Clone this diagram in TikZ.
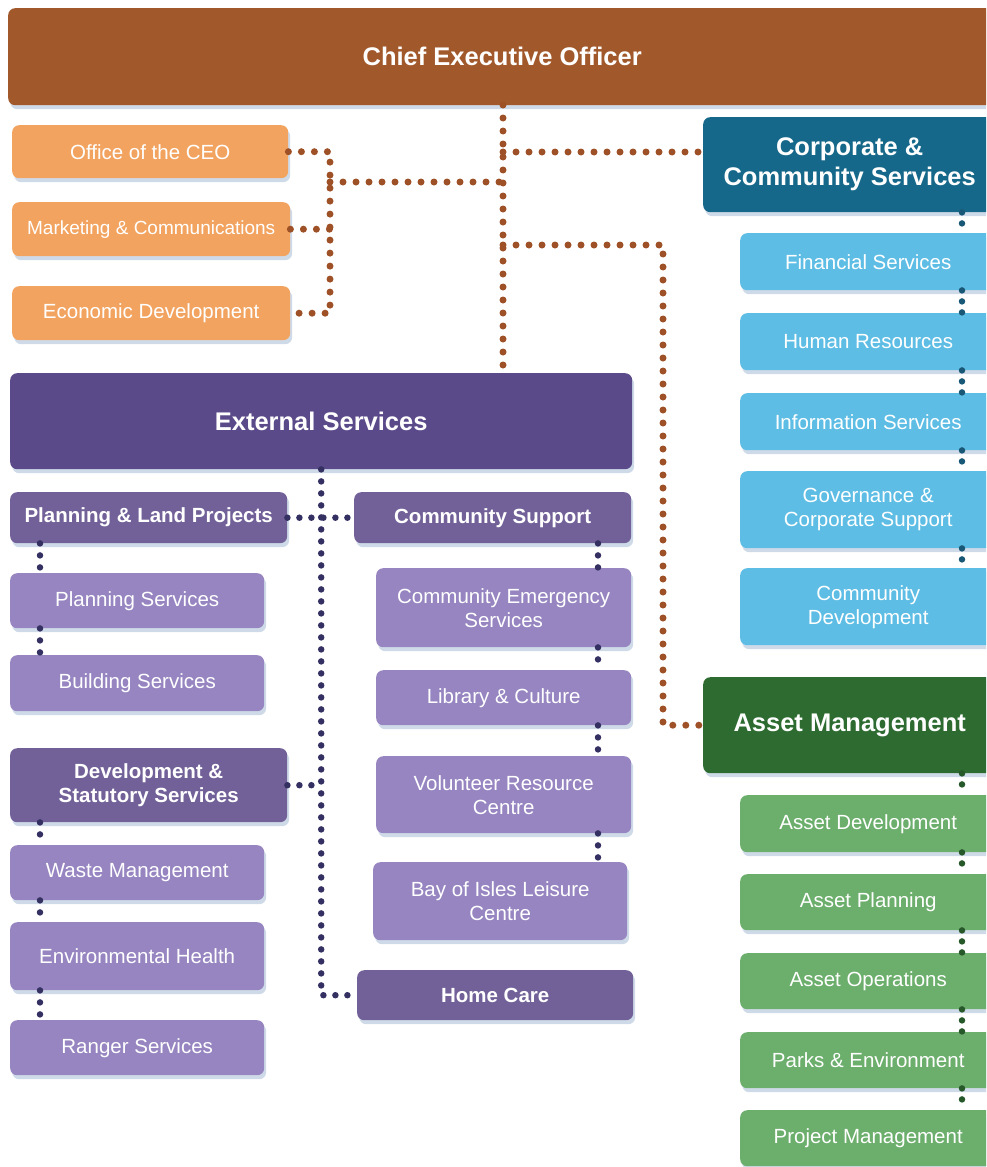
\documentclass[tikz,border=0pt]{standalone}
\usepackage{fontspec}
\setmainfont{Liberation Sans}
\usetikzlibrary{shadows}

\definecolor{ceobrown}{RGB}{161,88,42}
\definecolor{orangefill}{RGB}{242,163,95}
\definecolor{browndot}{RGB}{158,80,38}
\definecolor{corpblue}{RGB}{22,104,138}
\definecolor{lightblue}{RGB}{93,189,228}
\definecolor{bluedot}{RGB}{24,88,118}
\definecolor{assetgreen}{RGB}{45,107,48}
\definecolor{lightgreen}{RGB}{108,174,108}
\definecolor{greendot}{RGB}{38,88,42}
\definecolor{extpurple}{RGB}{91,74,138}
\definecolor{midpurple}{RGB}{113,97,152}
\definecolor{lightpurple}{RGB}{150,133,192}
\definecolor{navydot}{RGB}{52,48,98}
\definecolor{shadowblue}{RGB}{160,182,210}

\begin{document}
\begin{tikzpicture}[x=1pt, y=-1pt,
  box/.style={rounded corners=7pt, anchor=north west, align=center, text=white, inner sep=2pt,
    drop shadow={shadow xshift=2pt, shadow yshift=-4pt, fill=shadowblue, opacity=.5}},
  headbox/.style={box, font=\fontsize{25.5}{30}\selectfont\bfseries},
  midbox/.style={box, font=\fontsize{20.5}{24}\selectfont\bfseries},
  subbox/.style={box, font=\fontsize{20.5}{24}\selectfont},
  dots/.style={line width=7pt, line cap=round, dash pattern=on 0pt off 13pt},
  browndots/.style={dots, draw=browndot},
  bluedots/.style={dots, draw=bluedot, line width=6.5pt, dash pattern=on 0pt off 11pt},
  greendots/.style={dots, draw=greendot, line width=6.5pt, dash pattern=on 0pt off 11pt},
  navydots/.style={dots, draw=navydot, line width=6.5pt, dash pattern=on 0pt off 12pt}]
\path[use as bounding box, clip] (0,0) rectangle (986,1167);

% top level
\node[headbox, fill=ceobrown, minimum width=988, minimum height=97] (ceo) at (8,8) {Chief Executive Officer};
\node[subbox, fill=orangefill, minimum width=276, minimum height=53] (office) at (12,125) {Office of the CEO};
\node[subbox, fill=orangefill, minimum width=278, minimum height=54, font=\fontsize{19}{22}\selectfont] (marketing) at (12,202) {Marketing \& Communications};
\node[subbox, fill=orangefill, minimum width=278, minimum height=54] (econ) at (12,286) {Economic Development};

% corporate & community services
\node[headbox, fill=corpblue, minimum width=293, minimum height=95] (corp) at (703,117) {Corporate \&\\Community Services};
\node[subbox, fill=lightblue, minimum width=256, minimum height=57] (fin) at (740,233) {Financial Services};
\node[subbox, fill=lightblue, minimum width=256, minimum height=57] (hr) at (740,313) {Human Resources};
\node[subbox, fill=lightblue, minimum width=256, minimum height=57] (info) at (740,393) {Information Services};
\node[subbox, fill=lightblue, minimum width=256, minimum height=77] (gov) at (740,471) {Governance \&\\Corporate Support};
\node[subbox, fill=lightblue, minimum width=256, minimum height=77] (commdev) at (740,568) {Community\\Development};

% asset management
\node[headbox, fill=assetgreen, minimum width=293, minimum height=96] (asset) at (703,677) {Asset Management};
\node[subbox, fill=lightgreen, minimum width=256, minimum height=57] (assetdev) at (740,795) {Asset Development};
\node[subbox, fill=lightgreen, minimum width=256, minimum height=56] (assetplan) at (740,874) {Asset Planning};
\node[subbox, fill=lightgreen, minimum width=256, minimum height=56] (assetops) at (740,953) {Asset Operations};
\node[subbox, fill=lightgreen, minimum width=256, minimum height=56] (parks) at (740,1032) {Parks \& Environment};
\node[subbox, fill=lightgreen, minimum width=256, minimum height=56] (projmgmt) at (740,1110) {Project Management};

% external services
\node[headbox, fill=extpurple, minimum width=622, minimum height=96] (ext) at (10,373) {External Services};
\node[midbox, fill=midpurple, minimum width=277, minimum height=51] (pland) at (10,492) {Planning \& Land Projects};
\node[midbox, fill=midpurple, minimum width=277, minimum height=51] (commsup) at (354,492) {Community Support};
\node[subbox, fill=lightpurple, minimum width=254, minimum height=55] (plansvc) at (10,573) {Planning Services};
\node[subbox, fill=lightpurple, minimum width=254, minimum height=56] (buildsvc) at (10,655) {Building Services};
\node[midbox, fill=midpurple, minimum width=277, minimum height=74] (devstat) at (10,748) {Development \&\\Statutory Services};
\node[subbox, fill=lightpurple, minimum width=254, minimum height=55] (waste) at (10,845) {Waste Management};
\node[subbox, fill=lightpurple, minimum width=254, minimum height=68] (envhealth) at (10,922) {Environmental Health};
\node[subbox, fill=lightpurple, minimum width=254, minimum height=55] (ranger) at (10,1020) {Ranger Services};
\node[subbox, fill=lightpurple, minimum width=255, minimum height=79] (emerg) at (376,568) {Community Emergency\\Services};
\node[subbox, fill=lightpurple, minimum width=255, minimum height=55] (library) at (376,670) {Library \& Culture};
\node[subbox, fill=lightpurple, minimum width=255, minimum height=77] (volunteer) at (376,756) {Volunteer Resource\\Centre};
\node[subbox, fill=lightpurple, minimum width=254, minimum height=78] (bayisles) at (373,862) {Bay of Isles Leisure\\Centre};
\node[midbox, fill=midpurple, minimum width=276, minimum height=50] (homecare) at (357,970) {Home Care};

% brown links from the CEO
\coordinate (ceotap) at (503,105);
\coordinate (leftbus) at (330,182);
\coordinate (corptap) at (503,152);
\coordinate (assettap) at (503,245);
\draw[browndots] (ceotap) -- (ceotap |- ext.north);
\draw[browndots] (office.east) -| (leftbus |- econ.east) -- (econ.east);
\draw[browndots] (marketing.east) -- (leftbus |- marketing.east);
\draw[browndots] (leftbus) -- (leftbus -| ceotap);
\draw[browndots] (corptap) -- (corptap -| corp.west);
\draw[browndots] (assettap) -| ([xshift=-40pt]asset.west) -- (asset.west);

% blue and green chains
\coordinate (bchain) at (962,0);
\foreach \a/\b in {corp/fin, fin/hr, hr/info, info/gov, gov/commdev}
  \draw[bluedots] (bchain |- \a.south) -- (bchain |- \b.north);
\foreach \a/\b in {asset/assetdev, assetdev/assetplan, assetplan/assetops, assetops/parks, parks/projmgmt}
  \draw[greendots] (bchain |- \a.south) -- (bchain |- \b.north);

% purple links
\draw[navydots] (ext.south) |- (homecare.west);
\draw[navydots] (pland.east) -- (commsup.west);
\draw[navydots] (devstat.east) -- (ext.south |- devstat.east);
\coordinate (lchain) at (40,0);
\foreach \a/\b in {pland/plansvc, plansvc/buildsvc, devstat/waste, waste/envhealth, envhealth/ranger}
  \draw[navydots] (lchain |- \a.south) -- (lchain |- \b.north);
\coordinate (rchain) at (598,0);
\foreach \a/\b in {commsup/emerg, emerg/library, library/volunteer, volunteer/bayisles}
  \draw[navydots] (rchain |- \a.south) -- (rchain |- \b.north);
\end{tikzpicture}
\end{document}
